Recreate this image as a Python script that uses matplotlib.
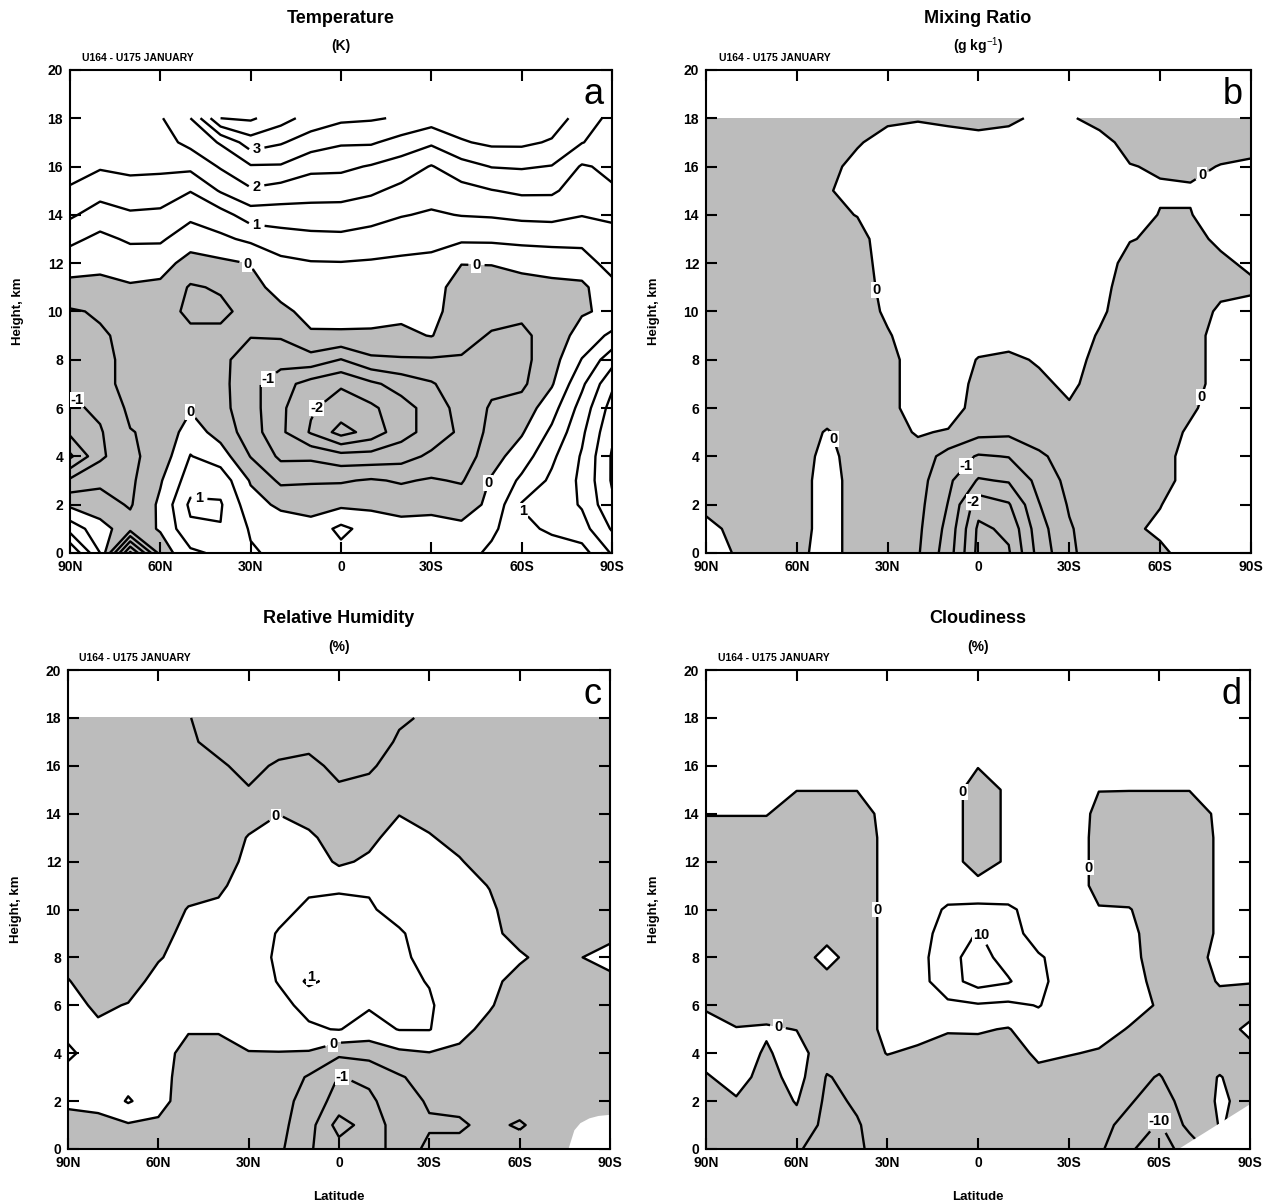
import numpy as np
import matplotlib
matplotlib.use('Agg')
import matplotlib.pyplot as plt

plt.rcParams['font.family'] = ['Liberation Sans', 'DejaVu Sans']
plt.rcParams['mathtext.fontset'] = 'custom'
plt.rcParams['mathtext.rm'] = 'Liberation Sans'
plt.rcParams['contour.negative_linestyle'] = 'solid'

# grid: latitude (90N -> 90S) and height (km)
lat = [90, 80, 70, 60, 50, 40, 30, 20, 10, 0, -10, -20, -30, -40, -50, -60, -70, -80, -90]
hgt = [0, 1, 2, 3, 4, 5, 6, 7, 8, 9, 10, 11, 12, 13, 14, 15, 16, 17, 18]

lat_ticks = [90, 60, 30, 0, -30, -60, -90]
lat_labels = ['90N', '60N', '30N', '0', '30S', '60S', '90S']

# (a) temperature difference, K -- one profile (0..18 km) per latitude
temp = [
    [2.0, 0.8, -0.1, -0.9, -2.1, -1.4, -1.1, -0.95, -0.6, -0.55, -0.55, -0.15, 0.22, 0.62, 1.08, 1.47, 1.6, 1.75, 1.85],
    [0.5, 0.2, -0.3, -0.6, -1.1, -1.05, -0.9, -0.6, -0.6, -0.55, -0.45, -0.1, 0.09, 0.38, 0.77, 1.19, 1.55, 1.7, 1.8],
    [-2.6, -0.3, -0.55, -0.6, -0.6, -0.52, -0.4, -0.4, -0.4, -0.4, -0.3, -0.05, 0.23, 0.57, 0.93, 1.33, 1.6, 1.75, 1.85],
    [-0.3, 0.05, 0.1, -0.05, -0.3, -0.4, -0.4, -0.35, -0.3, -0.3, -0.3, -0.1, 0.19, 0.57, 0.9, 1.27, 1.6, 1.8, 1.95],
    [0.4, 0.9, 1.1, 0.75, 0.52, 0.25, -0.05, -0.3, -0.35, -0.4, -0.6, -0.55, -0.18, 0.22, 0.62, 1.02, 1.62, 2.14, 2.5],
    [0.6, 0.98, 1.05, 0.8, 0.25, -0.2, -0.35, -0.35, -0.4, -0.4, -0.6, -0.45, -0.1, 0.4, 0.8, 1.55, 2.05, 2.55, 4.0],
    [0.55, 0.45, 0.2, -0.05, -0.52, -0.75, -0.8, -0.85, -0.7, -0.48, -0.35, -0.15, 0.02, 0.6, 1.25, 1.93, 2.45, 3.27, 4.08],
    [0.4, 0.3, -0.1, -0.6, -1.1, -1.4, -1.4, -1.3, -0.8, -0.45, -0.1, 0.16, 0.39, 0.76, 1.28, 1.78, 2.45, 3.05, 3.7],
    [0.3, 0.2, -0.2, -0.55, -1.1, -2.05, -1.95, -1.7, -0.7, -0.05, 0.13, 0.3, 0.47, 0.85, 1.3, 1.7, 2.13, 2.75, 3.3],
    [0.35, 0.62, -0.1, -0.55, -1.3, -2.7, -2.2, -1.95, -1.02, -0.05, 0.14, 0.31, 0.48, 0.88, 1.29, 1.69, 2.11, 2.56, 3.1],
    [0.42, 0.3, -0.1, -0.45, -1.3, -2.3, -2.1, -1.6, -0.6, -0.05, 0.12, 0.28, 0.45, 0.79, 1.19, 1.58, 1.96, 2.56, 3.05],
    [0.3, 0.2, -0.2, -0.55, -1.2, -1.7, -1.7, -1.3, -0.55, -0.1, 0.11, 0.27, 0.42, 0.68, 1.03, 1.37, 1.77, 2.31, 2.95],
    [0.4, 0.2, -0.15, -0.45, -0.9, -1.3, -1.3, -1.05, -0.55, 0.02, 0.15, 0.28, 0.41, 0.61, 0.94, 1.21, 1.47, 2.08, 2.75],
    [0.3, 0.1, -0.2, -0.55, -0.8, -0.9, -0.8, -0.7, -0.55, -0.3, -0.25, -0.3, 0.02, 0.58, 1.02, 1.33, 1.8, 2.45, 2.8],
    [0.6, 0.4, 0.1, 0.05, -0.2, -0.35, -0.45, -0.6, -0.6, -0.55, -0.3, -0.2, 0.02, 0.59, 1.05, 1.48, 2.02, 2.6, 2.8],
    [0.6, 0.85, 1.04, 0.6, 0.25, -0.05, -0.3, -0.6, -0.65, -0.6, -0.4, -0.15, 0.11, 0.64, 1.12, 1.59, 2.05, 2.6, 2.8],
    [0.7, 1.1, 1.2, 1.1, 0.9, 0.6, 0.3, -0.05, -0.2, -0.3, -0.3, -0.1, 0.16, 0.67, 1.14, 1.58, 1.98, 2.45, 2.75],
    [0.8, 1.3, 1.55, 1.6, 1.55, 1.4, 1.2, 0.9, 0.52, 0.2, -0.05, -0.1, 0.27, 0.64, 1.02, 1.25, 1.45, 2.02, 2.3],
    [1.55, 2.05, 2.4, 2.55, 2.55, 2.4, 2.2, 1.9, 1.3, 0.6, 0.1, 0.35, 0.7, 0.9, 1.05, 1.45, 1.6, 1.75, 1.85],
]

# (b) mixing ratio difference, g/kg
mixr = [
    [0.3, 0.22, -0.2, -0.3, -0.3, -0.3, -0.3, -0.3, -0.3, -0.3, -0.3, -0.3, -0.3, -0.3, -0.3, -0.3, -0.3, -0.3, -0.3],
    [-0.05, -0.2, -0.3, -0.3, -0.3, -0.3, -0.3, -0.3, -0.3, -0.3, -0.3, -0.3, -0.3, -0.3, -0.3, -0.3, -0.3, -0.3, -0.3],
    [-0.3, -0.3, -0.3, -0.3, -0.3, -0.3, -0.3, -0.3, -0.3, -0.3, -0.3, -0.3, -0.3, -0.3, -0.3, -0.3, -0.3, -0.3, -0.3],
    [-0.2, -0.3, -0.3, -0.3, -0.3, -0.3, -0.3, -0.3, -0.3, -0.3, -0.3, -0.3, -0.3, -0.3, -0.3, -0.3, -0.3, -0.3, -0.3],
    [0.3, 0.3, 0.3, 0.3, 0.2, 0.05, -0.3, -0.3, -0.3, -0.3, -0.3, -0.3, -0.3, -0.3, -0.15, -0.05, -0.15, -0.3, -0.3],
    [-0.3, -0.3, -0.3, -0.3, -0.3, -0.3, -0.3, -0.3, -0.3, -0.3, -0.3, -0.3, -0.3, -0.2, 0.02, 0.2, 0.15, -0.05, -0.3],
    [-0.3, -0.3, -0.3, -0.3, -0.3, -0.2, -0.2, -0.2, -0.2, -0.05, 0.1, 0.2, 0.3, 0.3, 0.3, 0.3, 0.3, 0.2, -0.1],
    [-0.45, -0.4, -0.35, -0.3, -0.2, 0.05, 0.3, 0.3, 0.3, 0.3, 0.3, 0.3, 0.3, 0.3, 0.3, 0.3, 0.3, 0.3, -0.05],
    [-1.25, -1.15, -1.02, -0.9, -0.7, -0.05, 0.3, 0.3, 0.3, 0.3, 0.3, 0.3, 0.3, 0.3, 0.3, 0.3, 0.3, 0.2, -0.1],
    [-2.65, -2.6, -2.3, -1.55, -1.05, -0.35, -0.25, -0.15, -0.03, 0.25, 0.3, 0.3, 0.3, 0.3, 0.3, 0.3, 0.3, 0.2, -0.2],
    [-2.55, -2.4, -2.05, -1.45, -0.98, -0.4, -0.3, -0.2, -0.1, 0.2, 0.3, 0.3, 0.3, 0.3, 0.3, 0.3, 0.3, 0.2, -0.1],
    [-1.3, -1.2, -1.02, -0.85, -0.6, -0.2, -0.15, -0.1, 0.05, 0.3, 0.3, 0.3, 0.3, 0.3, 0.3, 0.3, 0.3, 0.3, 0.1],
    [-0.6, -0.55, -0.45, -0.35, -0.25, -0.15, -0.05, 0.1, 0.2, 0.3, 0.3, 0.3, 0.3, 0.3, 0.3, 0.3, 0.3, 0.3, 0.05],
    [-0.2, -0.2, -0.2, -0.2, -0.2, -0.2, -0.2, -0.2, -0.15, -0.05, 0.1, 0.2, 0.3, 0.3, 0.3, 0.3, 0.3, 0.15, -0.15],
    [-0.3, -0.1, -0.3, -0.3, -0.3, -0.3, -0.3, -0.3, -0.3, -0.3, -0.3, -0.3, -0.2, 0.03, 0.2, 0.15, 0.02, -0.15, -0.3],
    [-0.1, 0.1, -0.02, -0.3, -0.3, -0.3, -0.3, -0.3, -0.3, -0.3, -0.3, -0.3, -0.2, -0.1, -0.02, 0.05, -0.05, -0.25, -0.3],
    [0.2, 0.3, 0.3, 0.3, 0.3, 0.1, -0.1, -0.3, -0.3, -0.3, -0.3, -0.3, -0.3, -0.15, -0.02, 0.05, -0.1, -0.3, -0.3],
    [0.3, 0.3, 0.3, 0.3, 0.3, 0.3, 0.3, 0.3, 0.3, 0.3, 0.1, -0.15, -0.1, 0.1, 0.25, 0.25, 0.02, -0.2, -0.3],
    [0.3, 0.3, 0.3, 0.3, 0.3, 0.3, 0.3, 0.3, 0.3, 0.3, 0.2, -0.1, 0.1, 0.3, 0.3, 0.3, 0.1, -0.2, -0.3],
]

# (c) relative humidity difference, %
relh = [
    [-0.3, -0.2, 0.1, 0.3, 0.6, 0.35, 0.2, 0.03, -0.2, -0.3, -0.3, -0.3, -0.3, -0.3, -0.3, -0.3, -0.3, -0.3, -0.3],
    [-0.3, -0.1, 0.1, 0.25, 0.25, 0.1, -0.1, -0.3, -0.3, -0.3, -0.3, -0.3, -0.3, -0.3, -0.3, -0.3, -0.3, -0.3, -0.3],
    [-0.3, -0.05, 0.55, 0.3, 0.25, 0.2, 0.03, -0.25, -0.3, -0.3, -0.3, -0.3, -0.3, -0.3, -0.3, -0.3, -0.3, -0.3, -0.3],
    [-0.3, -0.1, 0.2, 0.25, 0.25, 0.25, 0.2, 0.2, -0.05, -0.3, -0.3, -0.3, -0.3, -0.3, -0.3, -0.3, -0.3, -0.3, -0.3],
    [-0.3, -0.3, -0.3, -0.3, -0.2, 0.05, 0.25, 0.25, 0.25, 0.25, 0.03, -0.2, -0.3, -0.3, -0.3, -0.3, -0.3, -0.45, -0.48],
    [-0.3, -0.3, -0.3, -0.3, -0.2, 0.05, 0.25, 0.25, 0.25, 0.25, 0.1, -0.1, -0.3, -0.3, -0.3, -0.3, -0.45, -0.6, -0.7],
    [-0.3, -0.3, -0.3, -0.2, -0.02, 0.2, 0.25, 0.3, 0.35, 0.35, 0.3, 0.25, 0.15, 0.03, -0.2, -0.48, -0.6, -0.7, -0.7],
    [-0.4, -0.35, -0.3, -0.2, -0.02, 0.3, 0.4, 0.52, 0.55, 0.52, 0.42, 0.35, 0.3, 0.25, -0.01, -0.3, -0.45, -0.65, -0.7],
    [-0.95, -0.8, -0.7, -0.55, -0.05, 0.45, 0.6, 1.1, 0.7, 0.65, 0.55, 0.45, 0.35, 0.1, -0.2, -0.3, -0.4, -0.6, -0.7],
    [-1.3, -1.7, -1.2, -1.02, -0.4, 0.52, 0.65, 0.8, 0.75, 0.7, 0.6, 0.45, -0.1, -0.25, -0.3, -0.45, -0.6, -0.7, -0.7],
    [-1.3, -1.3, -1.1, -0.9, -0.32, 0.3, 0.55, 0.7, 0.7, 0.65, 0.55, 0.45, 0.1, -0.15, -0.3, -0.4, -0.55, -0.7, -0.7],
    [-0.75, -0.75, -0.7, -0.55, -0.1, 0.52, 0.6, 0.6, 0.6, 0.55, 0.35, 0.3, 0.3, 0.25, -0.02, -0.3, -0.35, -0.45, -0.55],
    [-0.4, -0.55, -0.45, -0.3, -0.02, 0.52, 0.55, 0.48, 0.35, 0.3, 0.3, 0.25, 0.2, 0.05, -0.2, -0.3, -0.35, -0.4, -0.45],
    [-0.4, -0.55, -0.4, -0.3, -0.1, 0.15, 0.25, 0.25, 0.25, 0.25, 0.25, 0.2, 0.05, -0.2, -0.3, -0.3, -0.3, -0.35, -0.45],
    [-0.3, -0.4, -0.3, -0.3, -0.3, -0.15, 0.05, 0.15, 0.15, 0.15, 0.1, -0.02, -0.3, -0.3, -0.3, -0.3, -0.3, -0.3, -0.3],
    [-0.3, -0.55, -0.3, -0.3, -0.3, -0.3, -0.3, -0.2, 0.08, -0.2, -0.3, -0.3, -0.3, -0.3, -0.3, -0.3, -0.3, -0.3, -0.3],
    [-0.3, -0.3, -0.3, -0.3, -0.3, -0.3, -0.3, -0.3, -0.2, -0.3, -0.3, -0.3, -0.3, -0.3, -0.3, -0.3, -0.3, -0.3, -0.3],
    [-0.3, -0.3, -0.3, -0.3, -0.3, -0.3, -0.3, -0.2, -0.02, -0.2, -0.3, -0.3, -0.3, -0.3, -0.3, -0.3, -0.3, -0.3, -0.3],
    [-0.3, -0.3, -0.3, -0.3, -0.3, -0.3, -0.3, -0.15, 0.2, -0.15, -0.3, -0.3, -0.3, -0.3, -0.3, -0.3, -0.3, -0.3, -0.3],
]

# (d) cloudiness difference, %
cloud = [
    [-3, -3, -2, -0.5, 2, 1.5, -0.5, -3, -3, -3, -3, -3, -3, -2, 0.2, 3, 3, 3, 3],
    [-3, -2, -0.5, 2, 2, 0.3, -3, -3, -3, -3, -3, -3, -3, -2, 0.2, 3, 3, 3, 3],
    [-3, -3, -2.5, -2, -0.5, 0.5, -2, -3, -3, -3, -3, -3, -3, -2, 0.2, 3, 3, 3, 3],
    [-4.5, -1.5, 0.3, 2, 2, -0.1, -3, -3, -3, -3, -3, -3, -3, -3, -2, 0.1, 3, 3, 3],
    [-7, -6.5, -6, -5.3, -3, -3, -3, -2, 2, -2, -3, -3, -3, -3, -2, 0.1, 3, 3, 3],
    [-6, -5.3, -4.5, -3.5, -3, -3, -3, -3, -3, -3, -3, -3, -3, -3, -2, 0.1, 3, 3, 3],
    [-2, -3, -3, -3, 0.2, 1.5, 1.5, 1.5, 1.5, 1.5, 1.5, 1.5, 1.5, 1.5, 1.5, 2, 3, 3, 3],
    [-3, -3, -3, -3, -1, 2, 3, 3, 3, 3, 3, 3, 3, 3, 3, 3, 3, 3, 3],
    [-3, -3, -3, -3, -1.5, 0.3, 4, 8, 8.5, 7, 5.5, 3, 3, 3, 3, 3, 3, 3, 3],
    [-3, -3, -3, -3, -2, 0.5, 4.5, 12, 12, 10.3, 6, 2, -3, -3, -3, -3, 0.3, 3, 3],
    [-3, -3, -3, -3, -2.5, -0.3, 4, 10.5, 8, 7, 5.8, 2, 1, 1, 1, 1, 2, 3, 3],
    [-3, -3, -3, -1.5, 1, 3, 5.2, 6, 5.5, 3, 3, 3, 3, 3, 3, 3, 3, 3, 3],
    [-4, -3.5, -3, -2.5, 0.3, 2, 3, 3, 3, 3, 3, 3, 3, 3, 3, 3, 3, 3, 3],
    [-4, -3.5, -3, -2.5, -0.5, 2, 2, 2, 2, 1.5, 0.3, -1.5, -1.5, -1.5, -1.2, 0.1, 3, 3, 3],
    [-9.5, -6.5, -4.5, -3.5, -2, -0.3, 2, 2, 2, 1.5, 0.3, -3, -3, -3, -2, 0.1, 3, 3, 3],
    [-12, -10.5, -7.5, -5.3, -3, -2, -0.5, -1.5, -3, -3, -3, -3, -3, -3, -2, 0.1, 3, 3, 3],
    [-8, -3.5, -2.5, -2, -3, -3, -3, -3, -3, -3, -3, -3, -3, -3, -2, 0.1, 3, 3, 3],
    [-2, 0.2, 0.5, 0.2, -2, -2, -2, 0.5, 2, 0.8, 0.8, 0.8, 0.8, 0.8, 0.8, 1.5, 3, 3, 3],
    [-2, -1, -1, -2, -1.5, 1, -2, 0.2, 2, 2, 2, 2, 2, 2, 2, 2, 3, 3, 3],
]

# missing-data corners near the south pole (c, d)
mask_c_lat = [-76, -78, -80, -83, -86, -90]
mask_c_top = [0, 0.8, 1.1, 1.3, 1.4, 1.45]
mask_d_lat = [-66, -90]
mask_d_top = [0, 1.9]

# contour levels: plain lines / labelled lines
plain_a = [-3, -2.5, -1.5, -0.5, 0.5, 1.5, 2.5, 3.5, 4]
label_a = [-2, -1, 0, 1, 2, 3]
plain_b = [-2.5, -1.5, -0.5]
label_b = [-2, -1, 0]
plain_c = [-1.5, -0.5, 0.5]
label_c = [-1, 0, 1]
plain_d = [-5, 5]
label_d = [-10, 0, 10]

labpos_a = [(28, 16.7), (28, 15.1), (28, 13.6), (31, 12.0), (-45, 12.0), (27, 7.6),
            (10, 6.1), (85, 6.6), (50, 5.9), (47, 2.3), (-46, 3.0), (-62, 1.9)]
labpos_b = [(33, 10.9), (-73, 15.8), (-72, 6.5), (48, 4.7), (4, 3.6), (1.5, 2.1)]
labpos_c = [(21, 13.9), (2, 4.4), (-1, 3.0), (8, 7.4)]
labpos_d = [(5, 14.9), (34, 10.0), (-36, 11.75), (66, 5.2), (-3, 9.05), (-60, 1.2)]

shade = '#bcbcbc'


def fmt(v):
    return '%d' % round(v)


def panel(rect, field, plain, labelled, labpos, letter, xlabel=False, mask=None):
    ax = fig.add_axes(rect)
    Z = np.array(field).T
    ax.contourf(lat, hgt, Z, levels=[-1000, 0], colors=[shade], zorder=1)
    ax.contour(lat, hgt, Z, levels=plain, colors='k', linewidths=1.7,
               linestyles='solid', zorder=2)
    cs = ax.contour(lat, hgt, Z, levels=labelled, colors='k', linewidths=1.7,
                    linestyles='solid', zorder=2)
    texts = ax.clabel(cs, manual=labpos, fmt=fmt, fontsize=10.5,
                      inline=True, inline_spacing=4)
    for t in texts:
        t.set_fontweight('bold')
        t.set_rotation(0)
        t.set_bbox(dict(facecolor='white', edgecolor='none', pad=0.6))
    if mask is not None:
        ax.fill_between(mask[0], 0, mask[1], color='white', lw=0, zorder=2.2)
    ax.set_xlim(90, -90)
    ax.set_ylim(0, 20)
    ax.set_xticks(lat_ticks)
    ax.set_xticklabels(lat_labels)
    ax.set_yticks(range(0, 21, 2))
    ax.tick_params(direction='in', top=True, right=True, length=8, width=1.5,
                   labelsize=10, pad=5)
    for lb in ax.get_xticklabels() + ax.get_yticklabels():
        lb.set_fontweight('bold')
    for s in ax.spines.values():
        s.set_linewidth(1.5)
    ax.set_ylabel('Height, km', fontsize=9.5, fontweight='bold')
    ax.yaxis.set_label_coords(-0.085, 0.5)
    if xlabel:
        ax.set_xlabel('Latitude', fontsize=9.5, fontweight='bold')
        ax.xaxis.set_label_coords(0.5, -0.088)
    ax.text(0.985, 0.985, letter, transform=ax.transAxes, ha='right', va='top',
            fontsize=26, zorder=4)
    return ax


fig = plt.figure(figsize=(12.7, 12.01), dpi=100)

panel([0.0551, 0.5396, 0.4268, 0.4022], temp, plain_a, label_a, labpos_a, 'a')
panel([0.5559, 0.5396, 0.4291, 0.4022], mixr, plain_b, label_b, labpos_b, 'b')
panel([0.0535, 0.0433, 0.4268, 0.3988], relh, plain_c, label_c, labpos_c, 'c',
      xlabel=True, mask=(mask_c_lat, mask_c_top))
panel([0.5559, 0.0433, 0.4283, 0.3988], cloud, plain_d, label_d, labpos_d, 'd',
      xlabel=True, mask=(mask_d_lat, mask_d_top))

# titles
fig.text(0.2685, 0.985, 'Temperature', ha='center', va='center', fontsize=13, fontweight='bold')
fig.text(0.2685, 0.9617, '(K)', ha='center', va='center', fontsize=10, fontweight='bold')
fig.text(0.770, 0.985, 'Mixing Ratio', ha='center', va='center', fontsize=13, fontweight='bold')
fig.text(0.770, 0.9617, '(g kg$^{-1}$)', ha='center', va='center', fontsize=10, fontweight='bold')
fig.text(0.267, 0.4854, 'Relative Humidity', ha='center', va='center', fontsize=13, fontweight='bold')
fig.text(0.267, 0.4613, '(%)', ha='center', va='center', fontsize=10, fontweight='bold')
fig.text(0.770, 0.4854, 'Cloudiness', ha='center', va='center', fontsize=13, fontweight='bold')
fig.text(0.770, 0.4613, '(%)', ha='center', va='center', fontsize=10, fontweight='bold')

for x, y in [(0.0646, 0.9517), (0.566, 0.9517), (0.062, 0.452), (0.565, 0.452)]:
    fig.text(x, y, 'U164 - U175 JANUARY', ha='left', va='center', fontsize=7.5, fontweight='bold')

fig.savefig('out.png', dpi=100)
